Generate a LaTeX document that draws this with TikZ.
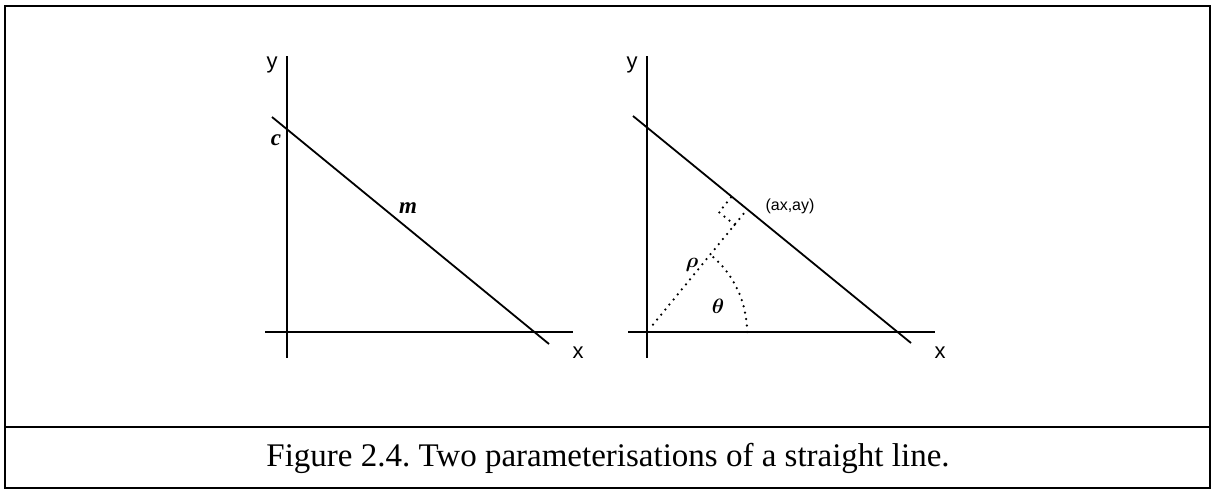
\documentclass[tikz,border=0pt]{standalone}
\usepackage{amsmath}
\usepackage{fontspec}
\usetikzlibrary{calc}
\setmainfont{Liberation Serif}
\newfontfamily\lsans{Liberation Sans}
\frenchspacing
\begin{document}
\begin{tikzpicture}[x=1pt,y=-1pt,
  axis/.style={line width=1.6pt},
  thinaxis/.style={line width=1.2pt},
  sline/.style={line width=1.8pt},
  dotline/.style={line width=2.5pt, dash pattern=on 0pt off 6.5pt, line cap=round},
  axlabel/.style={font=\lsans\fontsize{22}{26}\selectfont, inner sep=0pt},
  bilabel/.style={font=\fontsize{23}{27}\selectfont\bfseries\itshape, inner sep=0pt},
  mlabel/.style={font=\fontsize{21}{25}\selectfont, inner sep=0pt},
  ptlabel/.style={font=\lsans\fontsize{16}{19}\selectfont, inner sep=0pt},
  caption/.style={font=\fontsize{33}{40}\selectfont, inner sep=0pt}]
\useasboundingbox (0,0) rectangle (1213,490);
% frame
\draw[line width=2.5pt] (5,6) rectangle (1210,488);
\draw[line width=2.5pt] (5,427) -- (1210,427);
\node[caption] (cap) at (608,458) {Figure 2.4. Two parameterisations of a straight line.};

% ---- left panel
\coordinate (ly1) at (287,56);
\coordinate (ly2) at (287,358);
\coordinate (lx1) at (265,332);
\coordinate (lx2) at (573,332);
\coordinate (ll1) at (272,117);
\coordinate (ll2) at (549,344);
\draw[thinaxis] (ly1) -- (ly2);
\draw[axis] (lx1) -- (lx2);
\draw[sline] (ll1) -- (ll2);
\node[axlabel] (lylab) at (272,65) {y};
\node[axlabel] (lxlab) at (578,353) {x};
\node[bilabel] (clab) at (276,140) {c};
\node[bilabel] (mlab) at (408,208) {m};

% ---- right panel
\coordinate (ry1) at (647,56);
\coordinate (ry2) at (647,358);
\coordinate (rx1) at (628,332);
\coordinate (rx2) at (935,332);
\coordinate (rl1) at (633,116);
\coordinate (rl2) at (911,343);
\draw[thinaxis] (ry1) -- (ry2);
\draw[axis] (rx1) -- (rx2);
\draw[sline] (rl1) -- (rl2);
\node[axlabel] (rylab) at (632,65) {y};
\node[axlabel] (rxlab) at (940,353) {x};

\coordinate (O) at (647,332);
\coordinate (F) at (747.2,209.3);
\coordinate (A) at (734.5,224.8);
\coordinate (B) at (731.7,196.6);
\coordinate (C) at (719,212.1);
\draw[dotline] ($(O)!0.06!(F)$) -- (F);
\draw[dotline] (A) -- (C) -- (B);
\draw[dotline] (747,332) arc[start angle=0, end angle=-50.77, radius=100];
\node[ptlabel] (plab) at (790,206) {(ax,ay)};
\node[mlabel] (rholab) at (692,265) {$\boldsymbol{\rho}$};
\node[mlabel] (thlab) at (718,306) {$\boldsymbol{\theta}$};
\end{tikzpicture}
\end{document}
